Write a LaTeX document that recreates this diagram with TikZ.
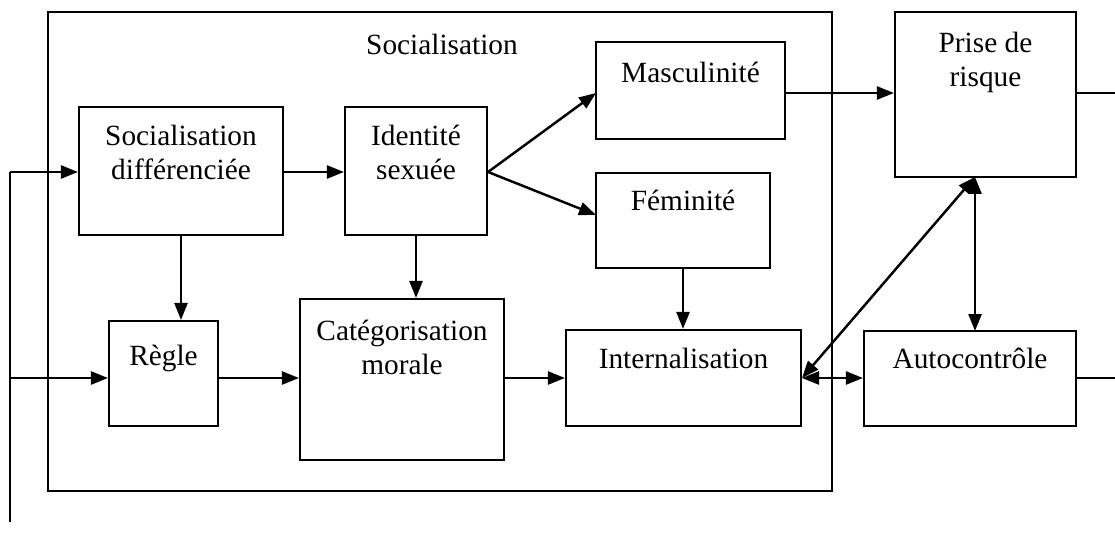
\documentclass[tikz,border=0pt]{standalone}
\usepackage{fontspec}
\setmainfont{Liberation Serif}
\usetikzlibrary{arrows.meta}
\begin{document}
\begin{tikzpicture}[x=0.02cm,y=-0.02cm,
  box/.style={draw,line width=1.2pt,rectangle,inner sep=0pt},
  lbl/.style={inner sep=0pt,align=center,font=\fontsize{16.7}{19.4}\selectfont},
  conn/.style={line width=1.4pt},
  arr/.style={conn,-{Triangle[length=0.34cm,width=0.26cm]}},
  darr/.style={conn,{Triangle[length=0.34cm,width=0.26cm]}-{Triangle[length=0.34cm,width=0.26cm]}}]
\useasboundingbox (0,0) rectangle (1115,533);
% boxes
\node[box,minimum width=784*0.02cm,minimum height=479*0.02cm] (soc) at (440,251.5) {};
\node[lbl] (soct) at (442,44) {Socialisation};
\node[box,minimum width=204*0.02cm,minimum height=128*0.02cm] (sd) at (181,171) {};
\node[lbl,anchor=north] at (181,125) {Socialisation\\diff\'erenci\'ee};
\node[box,minimum width=142*0.02cm,minimum height=128*0.02cm] (id) at (416,171) {};
\node[lbl,anchor=north] at (416,125) {Identit\'e\\sexu\'ee};
\node[box,minimum width=189*0.02cm,minimum height=97*0.02cm] (ma) at (690.5,90.5) {};
\node[lbl] at (690.5,72) {Masculinit\'e};
\node[box,minimum width=174*0.02cm,minimum height=95*0.02cm] (fe) at (683,220.5) {};
\node[lbl] at (683,200) {F\'eminit\'e};
\node[box,minimum width=109*0.02cm,minimum height=105*0.02cm] (re) at (163.5,373.5) {};
\node[lbl] at (163.5,358) {R\`egle};
\node[box,minimum width=204*0.02cm,minimum height=161*0.02cm] (ca) at (402,379.5) {};
\node[lbl,anchor=north] at (402,320) {Cat\'egorisation\\morale};
\node[box,minimum width=235*0.02cm,minimum height=96*0.02cm] (in) at (683.5,378) {};
\node[lbl] at (683.5,358) {Internalisation};
\node[box,minimum width=181*0.02cm,minimum height=165*0.02cm] (pr) at (985.5,94.5) {};
\node[lbl,anchor=north] at (985.5,32) {Prise de\\risque};
\node[box,minimum width=212*0.02cm,minimum height=95*0.02cm] (au) at (970,378.5) {};
\node[lbl] at (970,358) {Autocontr\^ole};
% coordinates
\coordinate (lt) at (10,172);
\coordinate (lm) at (10,378);
\coordinate (lb) at (10,522);
\coordinate (pre) at (1115,93);
\coordinate (aue) at (1115,378);
% connectors
\draw[conn] (lt) -- (lb);
\draw[arr] (lt) -- (sd.west|-lt);
\draw[arr] (lm) -- (re.west|-lm);
\draw[arr] (sd.east|-lt) -- (id.west|-lt);
\draw[arr] (id.east|-lt) -- (596,93);
\draw[arr] (id.east|-lt) -- (596,215);
\draw[arr] (sd.south) -- (sd.south|-re.north);
\draw[arr] (id.south) -- (id.south|-ca.north);
\draw[arr] (fe.south) -- (fe.south|-in.north);
\draw[arr] (re.east|-lm) -- (ca.west|-lm);
\draw[arr] (ca.east|-lm) -- (in.west|-lm);
\draw[darr] (in.east|-lm) -- (au.west|-lm);
\draw[darr] (in.east|-lm) -- (975,177);
\draw[darr] (975,177) -- (975,331);
\draw[arr] (ma.east|-pre) -- (pr.west|-pre);
\draw[conn] (pr.east|-pre) -- (pre);
\draw[conn] (au.east|-aue) -- (aue);
\end{tikzpicture}
\end{document}
